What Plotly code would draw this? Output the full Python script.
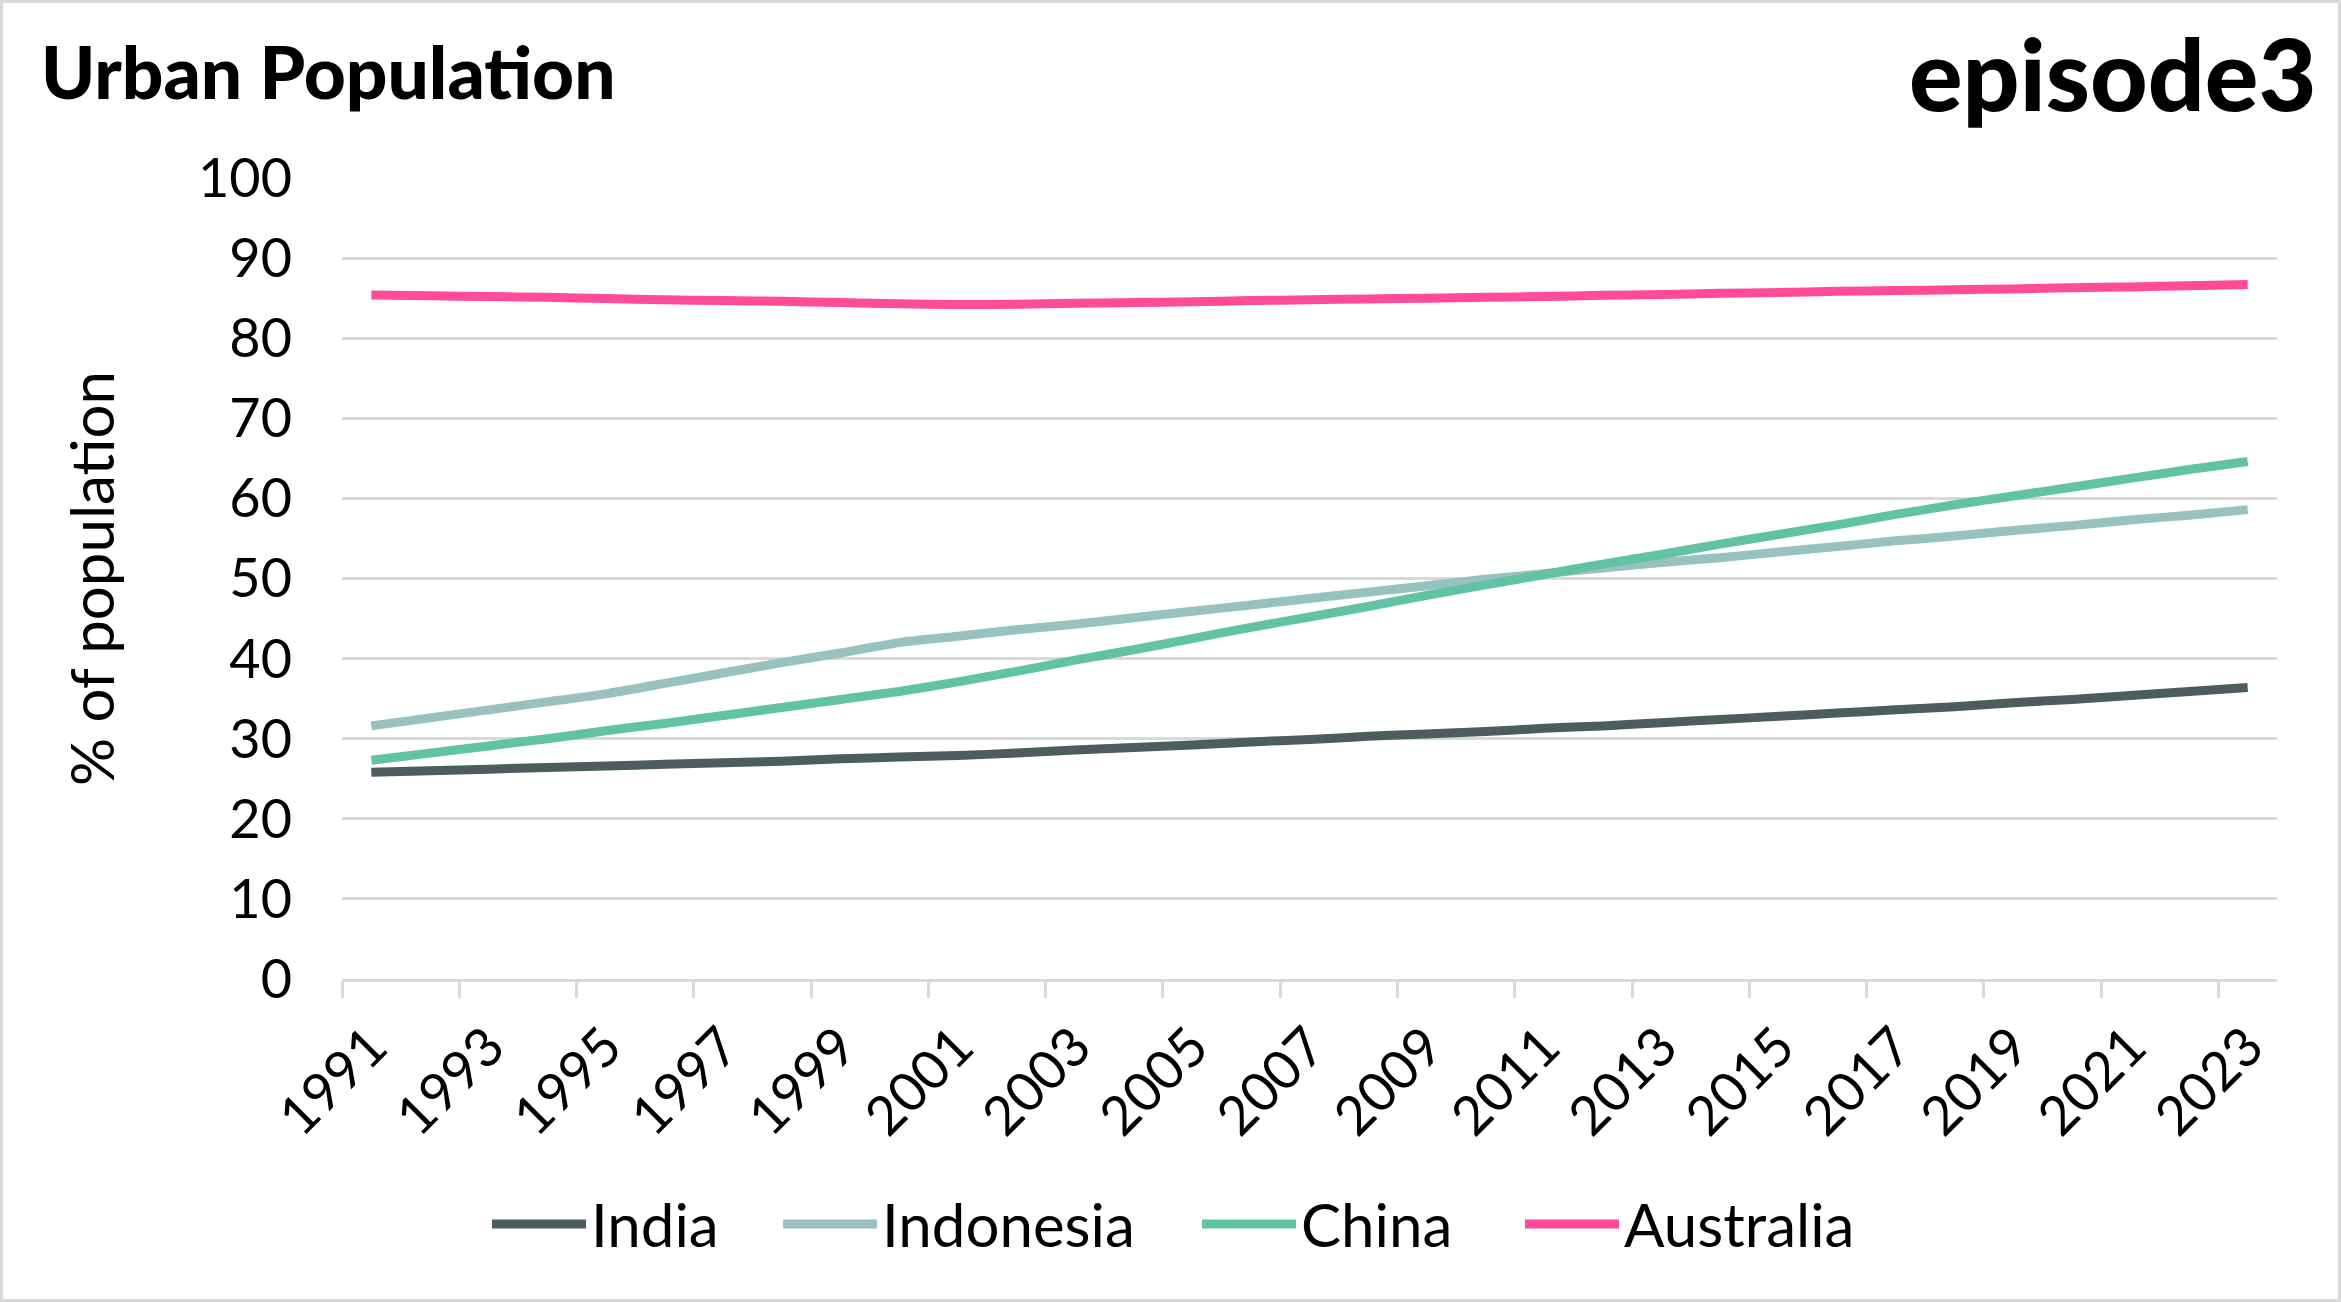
import plotly.graph_objects as go

# ---------------- data ----------------
years = [1991, 1992, 1993, 1994, 1995, 1996, 1997, 1998, 1999, 2000,
         2001, 2002, 2003, 2004, 2005, 2006, 2007, 2008, 2009, 2010,
         2011, 2012, 2013, 2014, 2015, 2016, 2017, 2018, 2019, 2020,
         2021, 2022, 2023]

india = [25.8, 26.0, 26.2, 26.4, 26.6, 26.8, 27.0, 27.2, 27.5, 27.7,
         27.9, 28.2, 28.6, 28.9, 29.2, 29.6, 29.9, 30.3, 30.6, 30.9,
         31.3, 31.6, 32.0, 32.4, 32.8, 33.2, 33.6, 34.0, 34.5, 34.9,
         35.4, 35.9, 36.4]

indonesia = [31.6, 32.6, 33.6, 34.6, 35.6, 36.9, 38.2, 39.5, 40.7, 42.0,
             42.8, 43.6, 44.3, 45.1, 45.9, 46.7, 47.5, 48.3, 49.1, 49.9,
             50.6, 51.3, 52.0, 52.6, 53.3, 54.0, 54.7, 55.3, 56.0, 56.6,
             57.3, 57.9, 58.6]

china = [27.3, 28.2, 29.1, 30.0, 31.0, 31.9, 32.9, 33.9, 34.9, 35.9,
         37.1, 38.4, 39.8, 41.1, 42.5, 43.9, 45.2, 46.5, 47.9, 49.2,
         50.5, 51.8, 53.0, 54.3, 55.5, 56.7, 58.0, 59.2, 60.3, 61.4,
         62.5, 63.6, 64.6]

australia = [85.4, 85.3, 85.2, 85.1, 84.95, 84.8, 84.7, 84.6, 84.45, 84.3,
             84.2, 84.25, 84.35, 84.45, 84.55, 84.7, 84.8, 84.9, 85.0, 85.1,
             85.2, 85.35, 85.45, 85.6, 85.7, 85.85, 85.95, 86.05, 86.15, 86.3,
             86.4, 86.55, 86.7]

series_names = ["India", "Indonesia", "China", "Australia"]
series_values = [india, indonesia, china, australia]
series_colors = ["#4B5D5E", "#97C2C0", "#61C3A4", "#FF4B98"]

label_years = [1991, 1993, 1995, 1997, 1999, 2001, 2003, 2005, 2007,
               2009, 2011, 2013, 2015, 2017, 2019, 2021, 2023]
y_ticks = [0, 10, 20, 30, 40, 50, 60, 70, 80, 90, 100]

title_text = "Urban Population"
logo_text = "episode3"
y_title = "% of population"

# ---------------- layout constants ----------------
W, H = 2341, 1302
ML, MR, MT, MB = 342, 64, 178, 323
PW, PH = W - ML - MR, H - MT - MB
GRID = "#d9d9d9"
FONT = "Lato, 'Open Sans', sans-serif"
LEGEND_LEFT = [487, 778, 1197, 1520]   # left edge of each legend entry (px)
LEGEND_Y = 1224

x_range = [years[0] - 0.5, years[-1] + 0.5]
tick_bounds = [y - 0.5 for y in label_years]

fig = go.Figure()
legend_ids = ["legend", "legend2", "legend3", "legend4"]
for name, vals, col, lg in zip(series_names, series_values, series_colors, legend_ids):
    fig.add_trace(go.Scatter(
        x=years, y=vals, name=name, mode="lines", legend=lg,
        line=dict(color=col, width=9, shape="spline", smoothing=0.5),
        hoverinfo="skip",
    ))

# helper trace so the tick-mark axis is drawn
fig.add_trace(go.Scatter(x=[years[0]], y=[None], xaxis="x2", showlegend=False,
                         hoverinfo="skip", mode="lines"))

legend_style = dict(orientation="h", xref="container", yref="container",
                    xanchor="left", y=1 - LEGEND_Y / H, yanchor="middle",
                    font=dict(family=FONT, size=60, color="black"),
                    itemwidth=94, bgcolor="rgba(0,0,0,0)", borderwidth=0)

fig.update_layout(
    width=W, height=H, autosize=False,
    margin=dict(l=ML, r=MR, t=MT, b=MB, pad=0),
    paper_bgcolor="white", plot_bgcolor="white",
    font=dict(family=FONT, color="black", size=54),
    title=dict(text=title_text, xref="container", yref="container",
               x=41 / W, xanchor="left", y=1 - 73 / H, yanchor="middle",
               font=dict(family=FONT, size=73, weight=900, color="black")),
    xaxis=dict(range=x_range, tickmode="array", tickvals=label_years,
               ticktext=[str(y) for y in label_years], tickangle=-45,
               ticks="", showgrid=False, showline=False, zeroline=False,
               ticklabelstandoff=24,
               tickfont=dict(family=FONT, size=54, color="black")),
    xaxis2=dict(range=x_range, overlaying="x", anchor="y", side="bottom",
                tickmode="array", tickvals=tick_bounds, ticks="outside",
                ticklen=16, tickwidth=2.5, tickcolor=GRID,
                showticklabels=False, showgrid=False, zeroline=False,
                showline=True, linecolor=GRID, linewidth=2.5),
    yaxis=dict(range=[0, 100], tickmode="array", tickvals=y_ticks,
               showgrid=True, gridcolor=GRID, gridwidth=2.5,
               zeroline=False, showline=False, ticks="",
               ticklabelstandoff=49,
               tickfont=dict(family=FONT, size=54, color="black"),
               title=dict(text=y_title, standoff=64,
                          font=dict(family=FONT, size=60, color="black"))),
    legend=dict(legend_style, x=LEGEND_LEFT[0] / W),
    legend2=dict(legend_style, x=LEGEND_LEFT[1] / W),
    legend3=dict(legend_style, x=LEGEND_LEFT[2] / W),
    legend4=dict(legend_style, x=LEGEND_LEFT[3] / W),
    showlegend=True,
)

fig.add_annotation(text=logo_text, xref="paper", yref="paper",
                   x=1 + (2318 - (W - MR)) / PW, xanchor="right",
                   y=1 + (MT - 72) / PH, yanchor="middle", showarrow=False,
                   font=dict(family=FONT, size=100, weight=900, color="black"))

# light grey frame round the whole picture
fig.add_shape(type="rect", xref="paper", yref="paper",
              x0=-ML / PW, x1=(W - ML) / PW, y0=-MB / PH, y1=(H - MB) / PH,
              line=dict(color=GRID, width=6), fillcolor="rgba(0,0,0,0)",
              layer="above")

fig.write_html("out.html", config={"displayModeBar": False},
               post_script=["document.body.style.margin='0px';"])
